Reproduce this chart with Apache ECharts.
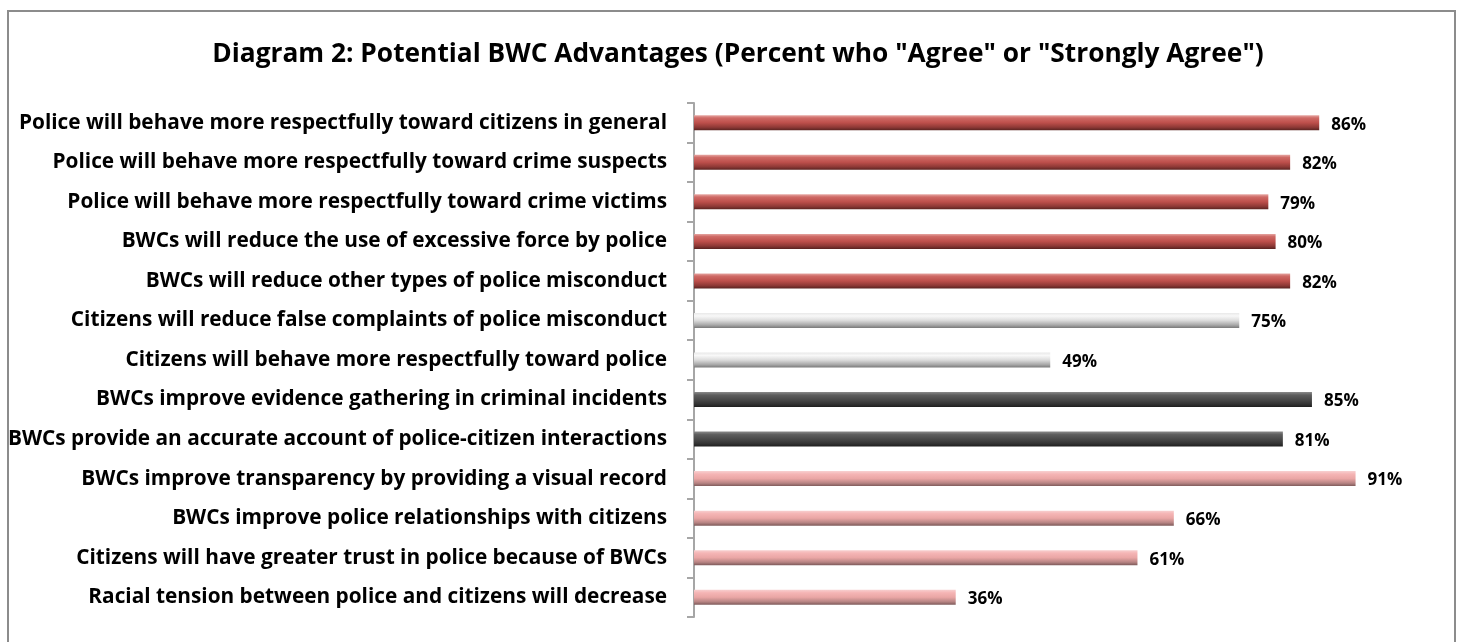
<!DOCTYPE html>
<html>
<head>
<meta charset="utf-8">
<script src="https://cdn.jsdelivr.net/npm/echarts@6/dist/echarts.min.js"></script>
<style>html,body{margin:0;padding:0;background:#fff;}#c{width:1461px;height:642px;}</style>
</head>
<body>
<div id="c"></div>
<script>
const titleText = 'Diagram 2: Potential BWC Advantages (Percent who "Agree" or "Strongly Agree")';
const categories = [
  'Police will behave more respectfully toward citizens in general',
  'Police will behave more respectfully toward crime suspects',
  'Police will behave more respectfully toward crime victims',
  'BWCs will reduce the use of excessive force by police',
  'BWCs will reduce other types of police misconduct',
  'Citizens will reduce false complaints of police misconduct',
  'Citizens will behave more respectfully toward police',
  'BWCs improve evidence gathering in criminal incidents',
  'BWCs provide an accurate account of police-citizen interactions',
  'BWCs improve transparency by providing a visual record',
  'BWCs improve police relationships with citizens',
  'Citizens will have greater trust in police because of BWCs',
  'Racial tension between police and citizens will decrease'
];
const values = [86, 82, 79, 80, 82, 75, 49, 85, 81, 91, 66, 61, 36];
const groups = ['red','red','red','red','red','grey','grey','dark','dark','pink','pink','pink','pink'];

const G = echarts.graphic.LinearGradient;
const fills = {
  red: new G(0,0,0,1,[{offset:0,color:'#e6a7a3'},{offset:0.18,color:'#cf6a66'},{offset:0.5,color:'#bd4f4b'},{offset:0.8,color:'#8e3936'},{offset:1,color:'#5a2321'}]),
  grey: new G(0,0,0,1,[{offset:0,color:'#e8e8e8'},{offset:0.2,color:'#f8f8f8'},{offset:0.5,color:'#dcdcdc'},{offset:0.8,color:'#a9a9a9'},{offset:1,color:'#7a7a7a'}]),
  dark: new G(0,0,0,1,[{offset:0,color:'#8a8a8a'},{offset:0.2,color:'#5e5e5e'},{offset:0.5,color:'#4a4a4a'},{offset:0.8,color:'#333333'},{offset:1,color:'#1e1e1e'}]),
  pink: new G(0,0,0,1,[{offset:0,color:'#f7cfcf'},{offset:0.2,color:'#f5b5b5'},{offset:0.5,color:'#eaa6a5'},{offset:0.8,color:'#b78483'},{offset:1,color:'#7e5a5a'}])
};

const chart = echarts.init(document.getElementById('c'));
chart.setOption({
  backgroundColor:'#fff',
  animation:false,
  title:{text:titleText,left:733,top:37,textAlign:'center',textStyle:{fontFamily:'Open Sans',fontWeight:'bold',fontSize:26.3,color:'#000'}},
  graphic:[{type:'rect',shape:{x:8,y:11,width:1447,height:660},style:{fill:'none',stroke:'#8c8c8c',lineWidth:2},silent:true}],
  grid:{left:694,top:103,width:727,height:514,containLabel:false},
  xAxis:{type:'value',min:0,max:100,show:false},
  yAxis:{type:'category',data:categories,inverse:true,offset:4,
    axisLine:{show:true,lineStyle:{color:'#a6a6a6',width:2}},
    axisTick:{show:true,length:7,lineStyle:{color:'#a6a6a6',width:2}},
    axisLabel:{margin:23,color:'#000',fontFamily:'Open Sans',fontWeight:'bold',fontSize:20.8,padding:[6,0,0,0]}},
  series:[{type:'bar',barWidth:15,
    data:values.map((v,i)=>({value:v,itemStyle:{color:fills[groups[i]]}})),
    label:{show:true,position:'right',distance:12,offset:[0,2],formatter:'{c}%',color:'#000',fontFamily:'Open Sans',fontWeight:'bold',fontSize:17}
  }]
});
</script>
</body>
</html>
